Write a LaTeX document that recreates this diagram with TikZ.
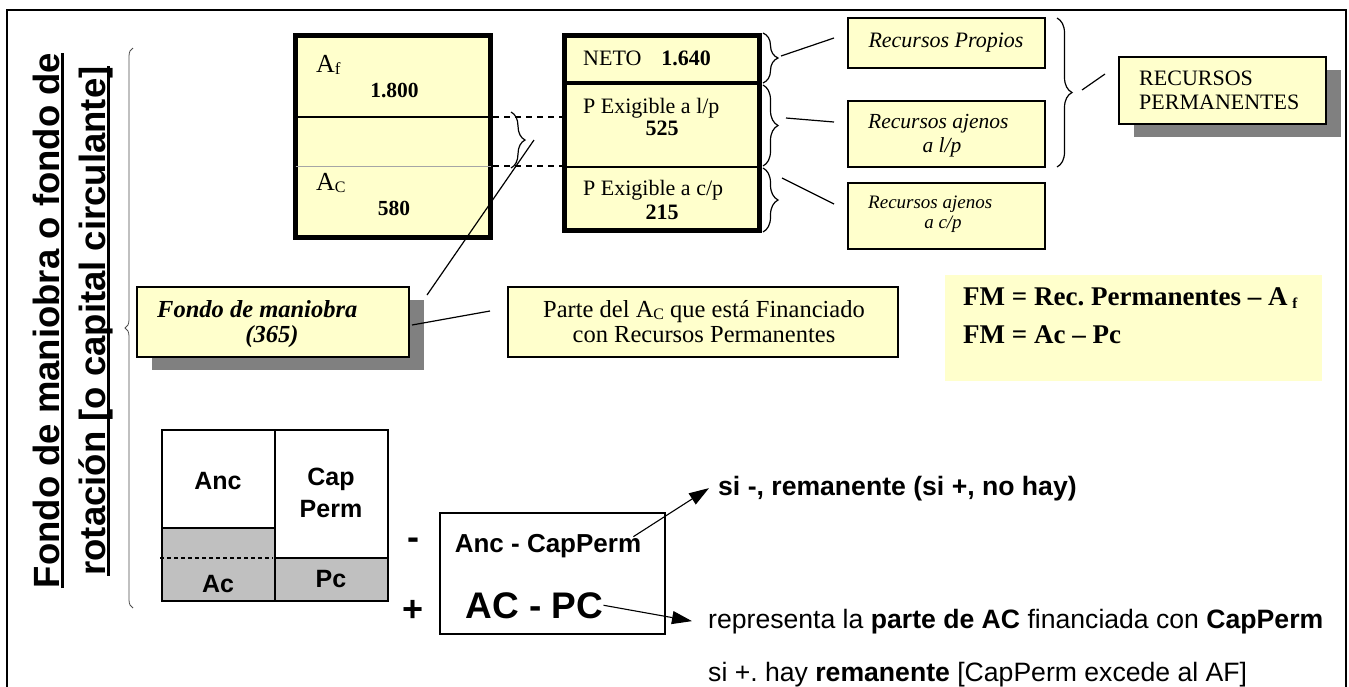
\documentclass[tikz,border=0pt]{standalone}
\usepackage{fontspec}
\setmainfont{Liberation Serif}
\setsansfont{Liberation Sans}
\usetikzlibrary{arrows.meta,decorations.pathreplacing}
\definecolor{ly}{HTML}{FFFFCC}
\definecolor{shd}{HTML}{808080}
\definecolor{tg}{HTML}{C0C0C0}
\newcommand{\fs}[1]{\fontsize{#1}{#1}\selectfont}
\newcommand{\myul}[1]{\setbox0\hbox{#1}\rlap{\rule[-4.5pt]{\wd0}{2.5pt}}\box0}
\frenchspacing
\begin{document}
\begin{tikzpicture}[x=1pt,y=-1pt,
  tx/.style={inner sep=0pt, anchor=base west},
  txc/.style={inner sep=0pt, anchor=base},
  ybox/.style={draw, fill=ly, line width=1.3pt, inner sep=0pt},
  shadowed/.style={preaction={fill=shd, transform canvas={xshift=15pt, yshift=-13pt}}},
  brc/.style={decorate, decoration={brace, amplitude=15pt}, line width=1.2pt},
  conn/.style={line width=1.2pt},
  arr/.style={line width=1.1pt, -{Triangle[length=20pt,width=13pt]}},
  ser/.style={font=\fs{#1}},
  sfb/.style={font=\sffamily\bfseries\fs{#1}}]
\useasboundingbox (0,0) rectangle (1349,686);

% outer frame
\draw[line width=1.8pt] (7,690) -- (7,10) -- (1346,10) -- (1346,690);

% vertical title
\node[rotate=90, txc, sfb=36.5] (t1) at (59,320.5) {\myul{Fondo de maniobra o fondo de}};
\node[rotate=90, txc, sfb=36.5] (t2) at (105,321) {\myul{rotación [o capital circulante]}};
\draw[decorate, decoration={brace, amplitude=8pt}, black!70, line width=0.8pt] (133,608) -- (133,48);

% Activo box
\node[draw, fill=ly, line width=5pt, minimum width=195pt, minimum height=202pt, inner sep=0pt] (act) at (393,136.5) {};
\draw[line width=1.3pt] (295.5,117) -- (490.5,117);
\draw[gray!70, line width=0.8pt] (295.5,166) -- (490.5,166);
\node[tx, ser=26] (af) at (316,72) {A\raisebox{-2pt}{\fs{17}f}};
\node[txc, font=\bfseries\fs{21.5}] (v1800) at (394.5,97) {1.800};
\node[tx, ser=26] (ac) at (316,190) {A\raisebox{-2pt}{\fs{16}C}};
\node[txc, font=\bfseries\fs{21.5}] (v580) at (394,215) {580};

% Pasivo box
\node[draw, fill=ly, line width=5pt, minimum width=195pt, minimum height=195pt, inner sep=0pt] (pas) at (662,133) {};
\draw[line width=3.5pt] (564.5,83) -- (759.5,83);
\draw[line width=2pt] (564.5,167) -- (759.5,167);
\node[tx, ser=22] (neto) at (583,65) {NETO\hspace{20pt}\textbf{1.640}};
\node[tx, ser=22] (pel) at (583,113) {P Exigible a l/p};
\node[txc, font=\bfseries\fs{22}] (v525) at (662,135) {525};
\node[tx, ser=22] (pec) at (583,195) {P Exigible a c/p};
\node[txc, font=\bfseries\fs{22}] (v215) at (662,219) {215};

% dashed links and small brace
\draw[line width=1.3pt, dash pattern=on 6pt off 5pt] (493,117) -- (562,117);
\draw[line width=1.3pt, dash pattern=on 6pt off 5pt] (493,166) -- (562,166);
\draw[decorate, decoration={brace, amplitude=14pt}, line width=1.2pt] (511,112) -- (511,168);

% braces right of pasivo
\draw[brc] (763,33) -- (763,83);
\draw[brc] (763,85) -- (763,166);
\draw[brc] (763,168) -- (763,232);

% right boxes
\node[ybox, minimum width=197pt, minimum height=50pt] (rp) at (946.5,43) {};
\node[ybox, minimum width=197pt, minimum height=66pt] (ral) at (946.5,134) {};
\node[ybox, minimum width=197pt, minimum height=66pt] (rac) at (946.5,216) {};
\node[txc, font=\itshape\fs{22}] (rpt) at (946,47) {Recursos Propios};
\node[tx, font=\itshape\fs{21.5}] (ralt1) at (868,128) {Recursos ajenos};
\node[txc, font=\itshape\fs{21.5}] (ralt2) at (942,152) {a l/p};
\node[tx, font=\itshape\fs{19}] (ract1) at (868,208) {Recursos ajenos};
\node[txc, font=\itshape\fs{19}] (ract2) at (943,228) {a c/p};

\coordinate (l1a) at (781,56); \coordinate (l1b) at (834,38);
\coordinate (l2a) at (786,118); \coordinate (l2b) at (834,122);
\coordinate (l3a) at (782,178); \coordinate (l3b) at (834,204);
\draw[conn] (l1a) -- (l1b);
\draw[conn] (l2a) -- (l2b);
\draw[conn] (l3a) -- (l3b);

% big brace and RECURSOS PERMANENTES
\draw[brc] (1057,18) -- (1057,167);
\node[ybox, shadowed, minimum width=207pt, minimum height=67pt] (rperm) at (1222.5,90.5) {};
\node[tx, ser=22] (rpt1) at (1139,85) {RECURSOS};
\node[tx, ser=22] (rpt2) at (1139,109) {PERMANENTES};
\coordinate (l4a) at (1082,90); \coordinate (l4b) at (1105,74);
\draw[conn] (l4a) -- (l4b);

% Fondo de maniobra box
\node[ybox, shadowed, minimum width=272pt, minimum height=70pt] (fmbox) at (273,322) {};
\node[tx, font=\bfseries\itshape\fs{24.5}] (fmt1) at (157,317) {Fondo de maniobra};
\node[txc, font=\bfseries\itshape\fs{24.5}] (fmt2) at (272,342) {(365)};
\coordinate (l5a) at (427,295); \coordinate (l5b) at (534,140);
\draw[conn] (l5a) -- (l5b);

% Parte del AC box
\node[ybox, minimum width=390pt, minimum height=70pt] (parte) at (703,322) {};
\node[txc, ser=24.5] (pt1) at (704,317) {Parte del A\raisebox{-2pt}{\fs{16}C} que está Financiado};
\node[txc, ser=24.5] (pt2) at (704,342) {con Recursos Permanentes};
\coordinate (l6a) at (412,325); \coordinate (l6b) at (490,311);
\draw[conn] (l6a) -- (l6b);

% FM formulas
\node[fill=ly, minimum width=377pt, minimum height=106pt, inner sep=0pt] (fmf) at (1133.5,328) {};
\node[tx, font=\bfseries\fs{27}] (fm1) at (963,305) {FM = Rec. Permanentes – A\hspace{5pt}\raisebox{-3pt}{\fs{15}f}};
\node[tx, font=\bfseries\fs{27}] (fm2) at (963,343) {FM = Ac – Pc};

% table
\draw[line width=1.2pt] (162,430) rectangle (275,528);
\filldraw[fill=tg, line width=1.2pt] (162,528) rectangle (275,601);
\draw[line width=1.2pt] (275,430) rectangle (388,558);
\filldraw[fill=tg, line width=1.2pt] (275,558) rectangle (388,601);
\draw[line width=1.8pt, dash pattern=on 4pt off 3pt] (160,558) -- (273,558);
\node[txc, sfb=25] (anc) at (218,489) {Anc};
\node[txc, sfb=25] (cap) at (331,485) {Cap};
\node[txc, sfb=25] (perm) at (331,517) {Perm};
\node[txc, sfb=25] (acl) at (218,592) {Ac};
\node[txc, sfb=25] (pcl) at (331,587) {Pc};

\node[txc, sfb=36] (minus) at (413,549) {-};
\node[txc, sfb=36] (plus) at (413,621) {+};

% result box
\node[draw, line width=1.2pt, minimum width=225pt, minimum height=121pt, inner sep=0pt] (res) at (552.5,573.5) {};
\node[txc, sfb=26] (ancc) at (548,552) {Anc - CapPerm};
\node[txc, sfb=37] (acpc) at (534.5,618) {AC - PC};

% right texts
\node[tx, sfb=26.6] (si) at (718,495) {si -, remanente (si +, no hay)};
\node[tx, font=\sffamily\fs{26.6}] (rep) at (708,628) {representa la \textbf{parte de AC} financiada con \textbf{CapPerm}};
\node[tx, font=\sffamily\fs{26.6}] (sip) at (708,681) {si +. hay \textbf{remanente} [CapPerm excede al AF]};

\draw[arr] ([shift={(-8,3)}]ancc.north east) -- ([xshift=-9pt]si.west);
\draw[arr] (acpc.east) -- ([xshift=-16pt]rep.west);
\end{tikzpicture}
\end{document}
